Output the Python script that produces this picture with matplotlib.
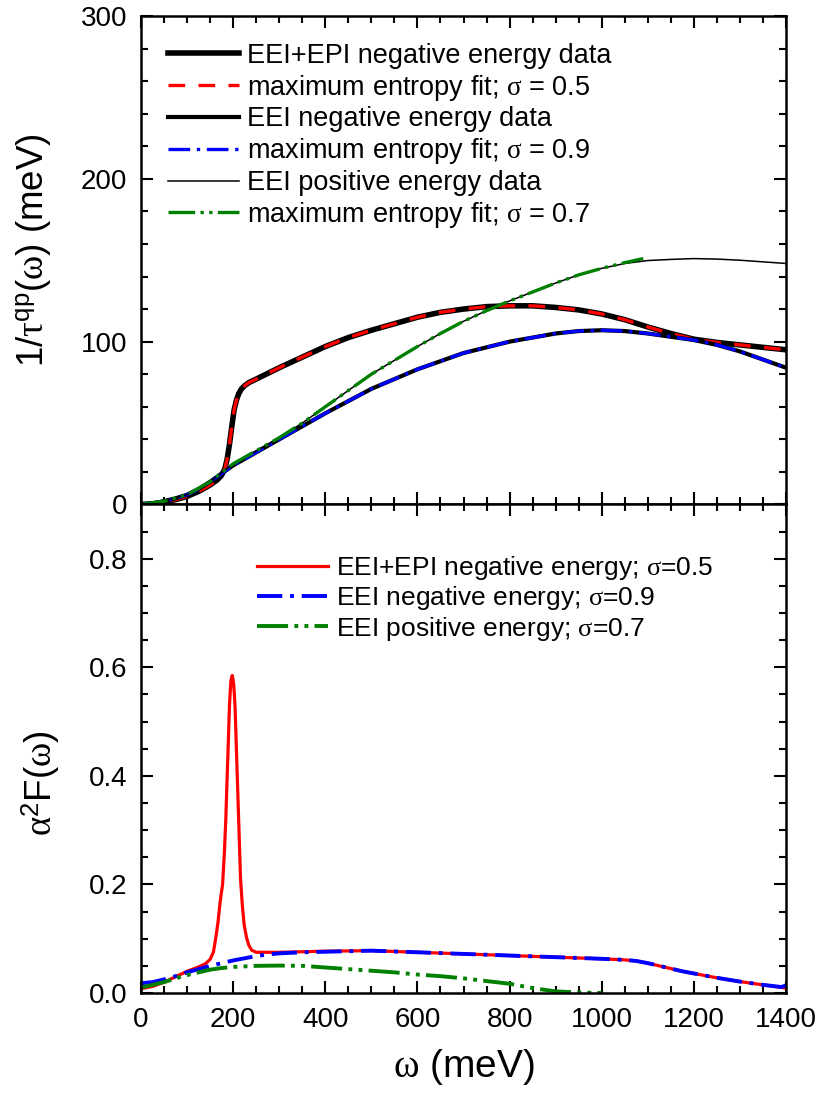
import matplotlib
matplotlib.use("Agg")
import matplotlib.pyplot as plt
from matplotlib.ticker import MultipleLocator

plt.rcParams['font.family'] = ['Liberation Sans', 'DejaVu Sans']
plt.rcParams['mathtext.fontset'] = 'custom'
plt.rcParams['mathtext.rm'] = 'Liberation Serif'
plt.rcParams['mathtext.it'] = 'Liberation Serif:italic'
plt.rcParams['mathtext.sf'] = 'Liberation Sans'

# ---- top panel: 1/tau^qp(omega) in meV ----
w_epi = [0, 25, 50, 75, 100, 125, 150, 165, 175, 182, 187, 192, 197, 202, 207, 212,
         218, 225, 235, 250, 275, 300, 350, 400, 450, 500, 550, 600, 650, 700, 750,
         800, 850, 900, 950, 1000, 1050, 1100, 1150, 1200, 1250, 1300, 1350, 1400]
tau_epi = [0, 0.4, 1.5, 3, 5, 8, 12, 15, 18, 22, 28, 37, 48, 58, 64, 68,
           71, 73, 75, 77, 80.5, 84, 90.5, 97, 102.5, 107, 111, 115, 118, 120, 121.5,
           122, 122, 121, 119.5, 117, 113.5, 109, 105, 101.5, 99.5, 98, 96.5, 95]

w_neg = [0, 25, 50, 75, 100, 125, 150, 175, 200, 250, 300, 350, 400, 450, 500, 550,
         600, 650, 700, 750, 800, 850, 900, 950, 1000, 1050, 1100, 1150, 1200, 1250,
         1300, 1350, 1400]
tau_neg = [0, 0.6, 2, 3.8, 6, 9.5, 14, 19, 24, 32, 40, 48, 56, 63.5, 71, 77,
           83, 88, 93, 96.5, 100, 102.5, 105, 106.5, 107, 106.5, 105, 103, 101, 98,
           94, 89, 84]

w_pos = [0, 50, 100, 150, 200, 250, 300, 350, 400, 450, 500, 550, 600, 650, 700, 750,
         800, 850, 900, 950, 1000, 1050, 1100, 1150, 1200, 1250, 1300, 1350, 1400]
tau_pos = [0, 2, 6, 14, 25, 33, 41, 50, 60, 70, 80, 88.5, 97, 105, 112.5, 119,
           125, 130.5, 136, 141, 145, 148, 149.8, 150.5, 151, 150.7, 150, 149, 148]

w_pos_fit = [0, 50, 100, 150, 200, 250, 300, 350, 400, 450, 500, 550, 600, 650, 700,
             750, 800, 850, 900, 950, 1000, 1050, 1090]
tau_pos_fit = [0, 2, 6, 14, 25, 33, 41, 50, 60, 70, 80, 88.5, 97, 105, 112.5,
               119, 125, 130.5, 136, 141, 145, 148.5, 151]

# ---- bottom panel: alpha^2 F(omega) ----
w_a_epi = [0, 25, 50, 75, 100, 125, 140, 150, 157, 162, 167, 172, 177, 181, 184, 187,
           189, 192, 195, 198, 201, 204, 207, 210, 213, 216, 220, 224, 229, 234, 240,
           250, 300, 350, 400, 450, 500, 550, 600, 650, 700, 750, 800, 850, 900, 950,
           1000, 1050, 1075, 1100, 1125, 1150, 1175, 1200, 1250, 1300, 1350, 1400]
a_epi = [0.008, 0.012, 0.02, 0.03, 0.04, 0.048, 0.054, 0.062, 0.075, 0.1, 0.13, 0.17,
         0.2, 0.26, 0.32, 0.4, 0.45, 0.53, 0.575, 0.585, 0.57, 0.53, 0.45, 0.37, 0.29,
         0.21, 0.16, 0.125, 0.102, 0.088, 0.079, 0.075, 0.075, 0.076, 0.077, 0.0775,
         0.078, 0.0765, 0.075, 0.0735, 0.072, 0.0705, 0.069, 0.0675, 0.066, 0.0645,
         0.063, 0.061, 0.059, 0.055, 0.05, 0.045, 0.04, 0.036, 0.028, 0.021, 0.015, 0.009]

w_a_neg = [0, 25, 50, 75, 100, 125, 150, 175, 200, 225, 250, 275, 300, 350, 400, 450,
           500, 550, 600, 650, 700, 750, 800, 850, 900, 950, 1000, 1050, 1075, 1100,
           1125, 1150, 1175, 1200, 1250, 1300, 1350, 1390, 1400]
a_neg = [0.018, 0.02, 0.025, 0.031, 0.038, 0.044, 0.05, 0.055, 0.06, 0.064, 0.068,
         0.071, 0.073, 0.075, 0.076, 0.077, 0.078, 0.0765, 0.075, 0.0735, 0.072, 0.0705,
         0.069, 0.0675, 0.066, 0.0645, 0.063, 0.061, 0.059, 0.055, 0.05, 0.045, 0.04,
         0.036, 0.028, 0.021, 0.015, 0.011, 0.014]

w_a_pos = [0, 25, 50, 75, 100, 125, 150, 175, 200, 250, 300, 350, 400, 450, 500, 550,
           600, 650, 700, 750, 800, 850, 900, 950, 1000]
a_pos = [0.01, 0.015, 0.02, 0.027, 0.033, 0.038, 0.043, 0.046, 0.048, 0.05, 0.0505,
         0.05, 0.047, 0.044, 0.041, 0.038, 0.034, 0.031, 0.027, 0.022, 0.017, 0.009,
         0.003, 0.001, 0.0]

dash_red = (0, (5, 4))
dash_blue = (0, (6.5, 2, 1, 2))
dash_green = (0, (8, 1.6, 1, 1.6, 1, 1.6))

fig, (ax1, ax2) = plt.subplots(2, 1, figsize=(8.2, 11.01), dpi=100, sharex=True)
plt.subplots_adjust(left=0.172, right=0.9585, top=0.9855, bottom=0.0981, hspace=0)

ax1.plot(w_epi, tau_epi, color='black', lw=4.0, label='EEI+EPI negative energy data')
ax1.plot(w_epi, tau_epi, color='red', lw=2.4, ls=dash_red,
         label=r'maximum entropy fit; $\mathrm{\sigma}$ = 0.5')
ax1.plot(w_neg, tau_neg, color='black', lw=3.0, label='EEI negative energy data')
ax1.plot(w_neg, tau_neg, color='blue', lw=2.4, ls=dash_blue,
         label=r'maximum entropy fit; $\mathrm{\sigma}$ = 0.9')
ax1.plot(w_pos, tau_pos, color='black', lw=1.1, label='EEI positive energy data')
ax1.plot(w_pos_fit, tau_pos_fit, color='green', lw=2.4, ls=dash_green,
         label=r'maximum entropy fit; $\mathrm{\sigma}$ = 0.7')

ax2.plot(w_a_epi, a_epi, color='red', lw=2.3,
         label=r'EEI+EPI negative energy; $\mathrm{\sigma}$=0.5')
ax2.plot(w_a_neg, a_neg, color='blue', lw=2.8, ls=dash_blue,
         label=r'EEI negative energy; $\mathrm{\sigma}$=0.9')
ax2.plot(w_a_pos, a_pos, color='green', lw=2.8, ls=dash_green,
         label=r'EEI positive energy; $\mathrm{\sigma}$=0.7')

ax1.set_ylim(0, 300)
ax1.yaxis.set_major_locator(MultipleLocator(100))
ax1.yaxis.set_minor_locator(MultipleLocator(20))
ax2.set_ylim(0, 0.9)
ax2.yaxis.set_major_locator(MultipleLocator(0.2))
ax2.yaxis.set_minor_locator(MultipleLocator(0.05))
ax2.set_xlim(0, 1400)
ax2.xaxis.set_major_locator(MultipleLocator(200))
ax2.xaxis.set_minor_locator(MultipleLocator(50))
ax2.yaxis.set_major_formatter(plt.FuncFormatter(lambda v, p: f"{v:.1f}"))

for ax in (ax1, ax2):
    for s in ax.spines.values():
        s.set_linewidth(1.8)
    ax.tick_params(which='both', direction='in', top=True, right=True,
                   labelsize=20, width=1.5, pad=10)
    ax.tick_params(which='major', length=8.6)
    ax.tick_params(which='minor', length=5)

ax1.set_ylabel(r'1/$\mathrm{\tau}^{\mathsf{qp}}$($\mathrm{\omega}$) (meV)', fontsize=26.5)
ax1.yaxis.set_label_coords(-0.136, 0.52)
ax2.set_ylabel(r'$\mathrm{\alpha}^{\mathsf{2}}$F($\mathrm{\omega}$)', fontsize=26.5)
ax2.yaxis.set_label_coords(-0.122, 0.43)
ax2.set_xlabel(r'$\mathrm{\omega}$ (meV)', fontsize=28, labelpad=10)

ax1.legend(loc='upper left', bbox_to_anchor=(0.042, 0.945), frameon=False, fontsize=19.5,
           handlelength=2.6, handletextpad=0.3, labelspacing=0.14, borderpad=0,
           borderaxespad=0)
ax2.legend(loc='upper left', bbox_to_anchor=(0.18, 0.898), frameon=False, fontsize=19,
           handlelength=2.7, handletextpad=0.3, labelspacing=0.08, borderpad=0,
           borderaxespad=0)

plt.savefig('out.png', dpi=100)
